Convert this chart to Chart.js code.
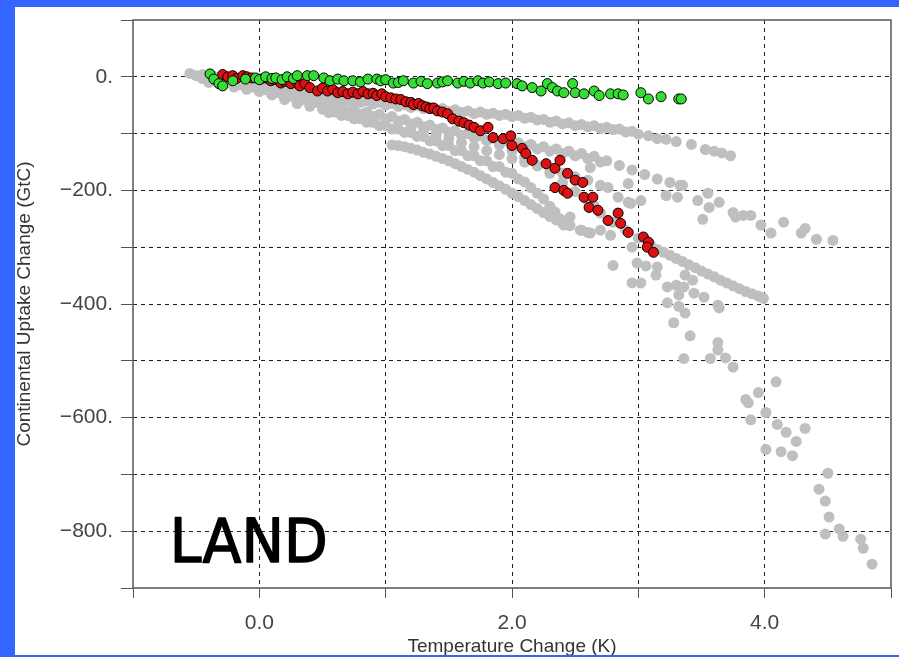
<!DOCTYPE html>
<html>
<head>
<meta charset="utf-8">
<script src="https://cdn.jsdelivr.net/npm/chart.js@4.4.0/dist/chart.umd.min.js"></script>
<style>
  html, body { margin: 0; padding: 0; background: #3366ff; overflow: hidden; }
  #frame { position: absolute; left: 15px; top: 7px; width: 884px; height: 648px; background: #ffffff; }
</style>
</head>
<body>
<div id="frame"><canvas id="landChart" width="884" height="648"></canvas></div>
<script>
// axes
const xTicks = [-1, 0, 1, 2, 3, 4, 5];
const xTickLabels = ['', '0.0', '', '2.0', '', '4.0', ''];
const yTicks = [-900, -800, -700, -600, -500, -400, -300, -200, -100, 0, 100];
const yTickLabels = ['', '\u2212800.', '', '\u2212600.', '', '\u2212400.', '', '\u2212200.', '', '0.', ''];

// green model run [K, GtC]
const greenPts = [
  [-0.39, 5], [-0.36, -4], [-0.32, -12], [-0.29, -16], [-0.21, -7], [-0.11, -4], [-0.03, -2], [0.0, -5],
  [0.05, 0], [0.1, -3], [0.13, -2], [0.18, -5], [0.22, 0], [0.27, -3], [0.3, 2], [0.38, 2], [0.43, 2],
  [0.51, -2], [0.56, -7], [0.62, -4], [0.67, -7], [0.74, -7], [0.8, -9], [0.86, -4], [0.93, -4], [0.96, -7],
  [1.0, -5], [1.06, -11], [1.1, -10], [1.14, -7], [1.22, -11], [1.28, -8], [1.33, -12], [1.41, -11],
  [1.45, -9], [1.49, -7], [1.57, -11], [1.62, -8], [1.67, -11], [1.73, -7], [1.77, -11], [1.82, -9],
  [1.89, -12], [1.95, -11], [2.04, -12], [2.08, -16], [2.16, -19], [2.23, -25], [2.28, -12], [2.32, -19],
  [2.36, -25], [2.41, -28], [2.48, -12], [2.5, -28], [2.57, -30], [2.65, -25], [2.69, -33], [2.78, -30],
  [2.84, -30], [2.88, -32], [3.02, -28], [3.08, -39], [3.18, -35], [3.32, -39], [3.34, -39]
];

// red model run [K, GtC]
const redPts = [
  [-0.29, 4], [-0.25, 0], [-0.21, 2], [-0.18, -3], [-0.13, 2], [-0.1, 0], [-0.06, -2], [0.01, -4],
  [0.05, -2], [0.09, -7], [0.12, -5], [0.17, -11], [0.2, -8], [0.25, -12], [0.3, -10], [0.32, -16],
  [0.36, -12], [0.4, -19], [0.46, -25], [0.5, -20], [0.54, -25], [0.58, -22], [0.62, -28], [0.66, -26],
  [0.7, -30], [0.74, -27], [0.78, -30], [0.82, -26], [0.86, -30], [0.9, -29], [0.93, -33], [0.97, -30],
  [1.0, -35], [1.04, -37], [1.08, -39], [1.12, -40], [1.16, -44], [1.2, -45], [1.22, -49], [1.26, -47],
  [1.29, -51], [1.32, -53], [1.35, -56], [1.38, -55], [1.41, -60], [1.45, -62], [1.49, -65], [1.53, -74],
  [1.58, -78], [1.62, -81], [1.66, -85], [1.7, -89], [1.75, -95], [1.81, -89], [1.85, -107], [1.93, -109],
  [1.99, -104], [2.0, -121], [2.08, -126], [2.11, -135], [2.16, -147], [2.27, -153], [2.34, -161],
  [2.38, -147], [2.44, -170], [2.5, -182], [2.56, -186], [2.34, -195], [2.41, -200], [2.44, -205],
  [2.57, -212], [2.64, -212], [2.61, -230], [2.68, -235], [2.76, -253], [2.84, -240], [2.86, -258],
  [2.92, -274], [3.04, -282], [3.08, -291], [3.07, -300], [3.12, -309]
];

// grey: other model runs
const greyA = [
  [-0.55, 6], [-0.5, 2], [-0.45, 4], [-0.4, -1], [-0.35, 0], [-0.3, -5], [-0.25, -4], [-0.2, -9],
  [-0.15, -8], [-0.1, -13], [-0.05, -12], [0, -17], [0.05, -16], [0.1, -21], [0.15, -19], [0.2, -25],
  [0.25, -24], [0.3, -30], [0.35, -28], [0.4, -34], [0.45, -31], [0.5, -37], [0.55, -34], [0.6, -40],
  [0.65, -37], [0.7, -43], [0.75, -40], [0.8, -45], [0.85, -42], [0.9, -48], [0.95, -45], [1.0, -50],
  [1.05, -47], [1.1, -52], [1.15, -49], [1.2, -54], [1.25, -51], [1.3, -56], [1.35, -53], [1.4, -58],
  [1.45, -56], [1.5, -61], [1.55, -58], [1.6, -63], [1.65, -60], [1.7, -65], [1.75, -62], [1.8, -66],
  [1.85, -64], [1.9, -68], [1.95, -66], [2.0, -70], [2.05, -68], [2.1, -73], [2.15, -71], [2.2, -76],
  [2.25, -75], [2.3, -80], [2.35, -78], [2.4, -83], [2.45, -81], [2.5, -86], [2.55, -84], [2.6, -88],
  [2.65, -86], [2.7, -91], [2.75, -89], [2.8, -93], [2.85, -92], [2.9, -97], [2.95, -96], [3.0, -101],
  [3.08, -104], [3.15, -109], [3.22, -110], [3.3, -114], [3.42, -119], [3.53, -128], [3.6, -131],
  [3.66, -134], [3.73, -139]
];
const greyB = [
  [-0.45, -3], [-0.4, -10], [-0.35, -6], [-0.3, -14], [-0.25, -10], [-0.2, -18], [-0.15, -14], [-0.1, -22],
  [-0.05, -18], [0, -26], [0.05, -23], [0.1, -31], [0.15, -28], [0.2, -37], [0.25, -34], [0.3, -43],
  [0.35, -40], [0.4, -48], [0.45, -45], [0.5, -53], [0.55, -49], [0.6, -57], [0.65, -54], [0.7, -62],
  [0.75, -58], [0.8, -66], [0.85, -62], [0.9, -70], [0.95, -66], [1.0, -74], [1.05, -70], [1.1, -78],
  [1.15, -75], [1.2, -83], [1.25, -80], [1.3, -88], [1.35, -85], [1.4, -93], [1.45, -90], [1.5, -98],
  [1.55, -95], [1.6, -103], [1.65, -100], [1.7, -108], [1.75, -104], [1.8, -112], [1.85, -108],
  [1.9, -116], [1.95, -112], [2.0, -120], [2.05, -116], [2.1, -123], [2.15, -119], [2.2, -127],
  [2.25, -123], [2.3, -131], [2.35, -127], [2.4, -135], [2.45, -131], [2.5, -139], [2.55, -135],
  [2.6, -144], [2.65, -140], [2.7, -150], [2.75, -148], [2.85, -156], [2.95, -164], [3.05, -172],
  [3.15, -180], [3.25, -186], [3.33, -191]
];
const greyC = [
  [-0.3, -5], [-0.2, -10], [-0.1, -17], [0, -24], [0.1, -32], [0.2, -40], [0.3, -47], [0.4, -52],
  [0.5, -57], [0.55, -63], [0.6, -62], [0.65, -68], [0.7, -68], [0.75, -74], [0.8, -74], [0.85, -80],
  [0.9, -80], [0.95, -86], [1.0, -86], [1.05, -92], [1.1, -92], [1.15, -98], [1.2, -98], [1.25, -105],
  [1.3, -105], [1.35, -113], [1.4, -113], [1.45, -121], [1.5, -121], [1.55, -130], [1.6, -130],
  [1.65, -139], [1.7, -139], [1.75, -148], [1.8, -148], [1.85, -158], [1.9, -158], [1.95, -168],
  [2.0, -170], [2.05, -180], [2.1, -185], [2.15, -195], [2.2, -205], [2.25, -215], [2.3, -228],
  [2.34, -238], [2.38, -250], [2.46, -262], [2.55, -270], [2.62, -275]
];
const greyD = [
  [1.05, -120], [1.1, -121], [1.15, -123], [1.2, -126], [1.25, -129], [1.3, -133], [1.35, -136],
  [1.4, -140], [1.45, -144], [1.5, -148], [1.55, -153], [1.6, -158], [1.65, -163], [1.7, -168],
  [1.75, -174], [1.8, -180], [1.85, -186], [1.9, -192], [1.95, -198], [2.0, -205], [2.05, -211],
  [2.1, -218], [2.15, -225], [2.2, -232], [2.25, -239], [2.3, -246], [2.35, -252], [2.4, -258]
];
const greyE = [
  [1.8, -112], [1.9, -120], [2.0, -130], [2.1, -142], [2.2, -156], [2.3, -170], [2.4, -186], [2.5, -202],
  [2.6, -218], [2.65, -226], [2.7, -240], [2.8, -256], [2.9, -270], [3.0, -284], [3.1, -297], [3.15, -304],
  [3.2, -309], [3.25, -314], [3.3, -320], [3.35, -325], [3.4, -331], [3.45, -336], [3.5, -342],
  [3.55, -347], [3.6, -352], [3.65, -358], [3.7, -363], [3.75, -368], [3.8, -373], [3.85, -378],
  [3.9, -382], [3.95, -386], [3.99, -390]
];
const greyF = [
  [1.2, -90], [1.3, -96], [1.4, -103], [1.5, -109], [1.6, -116], [1.7, -123], [1.8, -130], [1.9, -137],
  [2.0, -144], [2.1, -150], [2.2, -157], [2.3, -164], [2.4, -170], [2.5, -176], [2.6, -182]
];
const greyScatter = [
  [2.62, -160], [2.7, -191], [2.76, -195], [2.92, -188], [2.84, -212], [2.92, -221], [3.02, -218],
  [3.22, -209], [3.31, -212], [3.35, -191], [3.47, -218], [3.55, -205], [3.56, -230], [3.64, -221],
  [3.51, -251], [3.75, -239], [3.77, -247], [3.83, -244], [3.89, -244], [3.97, -261], [4.05, -275],
  [4.15, -256], [4.29, -275], [4.32, -267], [4.41, -286], [4.54, -288], [2.41, -261], [2.46, -247],
  [2.54, -270], [2.6, -274], [2.7, -270], [2.78, -279], [2.95, -300], [2.3, -240], [2.94, -223],
  [2.8, -332], [2.95, -363], [3.02, -363], [2.99, -328], [3.06, -333], [3.15, -335], [3.14, -349],
  [3.23, -370], [3.3, -367], [3.36, -370], [3.37, -349], [3.43, -358], [3.44, -381], [3.32, -384],
  [3.23, -398], [3.32, -404], [3.37, -416], [3.52, -388], [3.63, -402], [3.64, -407], [3.28, -433],
  [3.41, -456], [3.63, -468], [3.63, -481], [3.36, -496], [3.57, -496], [3.69, -495], [3.75, -511],
  [4.09, -537], [3.95, -556], [3.85, -568], [3.87, -574], [3.89, -604], [4.01, -591], [4.1, -612],
  [4.17, -626], [4.25, -642], [4.32, -619], [4.01, -656], [4.13, -660], [4.22, -667], [4.5, -698],
  [4.43, -726], [4.48, -747], [4.51, -775], [4.48, -805], [4.59, -796], [4.62, -809], [4.76, -814],
  [4.78, -830], [4.85, -858]
];

const toXY = pts => pts.map(([x, y]) => ({x, y}));
const greyPts = [].concat(greyA, greyB, greyC, greyD, greyE, greyF, greyScatter);

const edgeX = v => v === xTicks[0] || v === xTicks[xTicks.length - 1];
const edgeY = v => v === yTicks[0] || v === yTicks[yTicks.length - 1];

const tickFont = { family: '"Liberation Sans", Arial, sans-serif', size: 21 };
const titleFont = { family: '"Liberation Sans", Arial, sans-serif', size: 19, lineHeight: 1 };

// box round the plot and the LAND label
const frameAndLabel = {
  id: 'frameAndLabel',
  afterDraw(chart) {
    const {ctx, chartArea: a, scales} = chart;
    ctx.save();
    ctx.strokeStyle = '#555';
    ctx.lineWidth = 1.5;
    ctx.strokeRect(a.left, a.top, a.right - a.left, a.bottom - a.top);
    ctx.fillStyle = '#000';
    ctx.strokeStyle = '#000';
    ctx.lineWidth = 1.5;
    ctx.lineJoin = 'round';
    ctx.font = '60px "Comic Sans MS", "DejaVu Sans", sans-serif';
    ctx.textBaseline = 'alphabetic';
    const lx = scales.x.getPixelForValue(-0.71);
    const ly = scales.y.getPixelForValue(-854);
    ctx.fillText('LAND', lx, ly, 158);
    ctx.strokeText('LAND', lx, ly, 158);
    ctx.restore();
  }
};

new Chart(document.getElementById('landChart'), {
  type: 'scatter',
  data: {
    datasets: [
      {
        label: 'green',
        data: toXY(greenPts),
        backgroundColor: '#33dd33',
        borderColor: '#000',
        borderWidth: 1,
        pointRadius: 5,
      },
      {
        label: 'red',
        data: toXY(redPts),
        backgroundColor: '#dd1111',
        borderColor: '#000',
        borderWidth: 1,
        pointRadius: 5,
      },
      {
        label: 'grey',
        data: toXY(greyPts),
        backgroundColor: '#bfbfbf',
        borderWidth: 0,
        pointRadius: 5.5,
      },
    ],
  },
  options: {
    responsive: false,
    animation: false,
    layout: { padding: { top: 13, right: 8, left: 0, bottom: 0 } },
    plugins: { legend: { display: false }, tooltip: { enabled: false } },
    scales: {
      x: {
        type: 'linear',
        min: -1,
        max: 5,
        afterBuildTicks: s => { s.ticks = xTicks.map(v => ({ value: v })); },
        afterFit: s => { s.height = 67; s.paddingLeft = 0; s.paddingRight = 0; },
        grid: {
          color: c => edgeX(c.tick.value) ? 'rgba(0,0,0,0)' : '#222',
          tickColor: '#555',
          tickLength: 10,
          lineWidth: 1,
        },
        border: { display: false, dash: [4, 4] },
        ticks: {
          autoSkip: false,
          maxRotation: 0,
          padding: 13,
          color: '#444',
          font: tickFont,
          callback: (v, i) => xTickLabels[i],
        },
        title: {
          display: true,
          text: 'Temperature Change (K)',
          color: '#333',
          font: titleFont,
          padding: { top: 0, bottom: -1 },
        },
      },
      y: {
        type: 'linear',
        min: -900,
        max: 100,
        afterBuildTicks: s => { s.ticks = yTicks.map(v => ({ value: v })); },
        afterFit: s => { s.width = 118; s.paddingTop = 0; s.paddingBottom = 0; },
        grid: {
          color: c => edgeY(c.tick.value) ? 'rgba(0,0,0,0)' : '#222',
          tickColor: '#555',
          tickLength: 12,
          lineWidth: 1,
        },
        border: { display: false, dash: [4, 4] },
        ticks: {
          autoSkip: false,
          padding: 8,
          color: '#444',
          font: tickFont,
          callback: (v, i) => yTickLabels[i],
        },
        title: {
          display: true,
          text: 'Continental Uptake Change (GtC)',
          color: '#333',
          font: titleFont,
          padding: { top: 0, bottom: 0 },
        },
      },
    },
  },
  plugins: [frameAndLabel],
});
</script>
</body>
</html>
